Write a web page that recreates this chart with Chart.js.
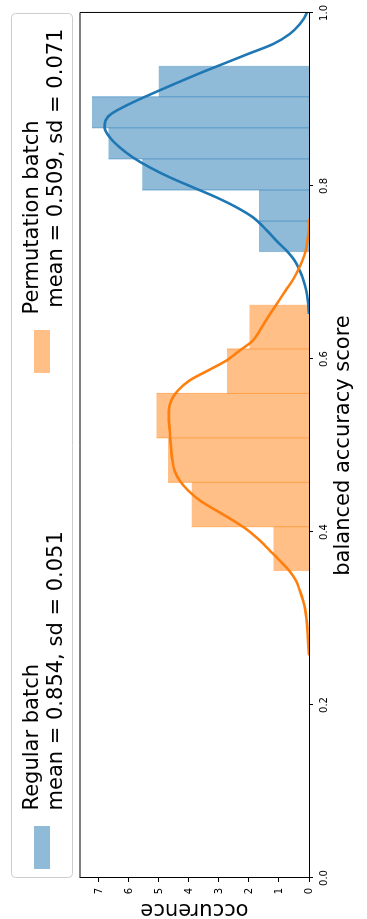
<!DOCTYPE html>
<html>
<head>
<meta charset="utf-8">
<script src="https://cdn.jsdelivr.net/npm/chart.js@4.4.1/dist/chart.umd.min.js"></script>
<style>
  html, body { margin: 0; padding: 0; background: #fff; width: 367px; height: 919px; overflow: hidden; }
  /* the figure is laid out landscape and turned a quarter turn counter-clockwise */
  #frame { position: absolute; left: 0; top: 0; width: 919px; height: 367px;
           transform-origin: 0 0; transform: translateY(919px) rotate(-90deg); }
  canvas { display: block; }
</style>
</head>
<body>
<div id="frame"><canvas id="chart" width="919" height="367"></canvas></div>
<script>
// ---- data -------------------------------------------------------------
const scoreTicks = [0.0, 0.2, 0.4, 0.6, 0.8, 1.0];
const occurrenceTicks = [0, 1, 2, 3, 4, 5, 6, 7];

// histogram bin edges and normalised bar heights
const regularBinEdges = [0.7234, 0.7594, 0.7953, 0.8313, 0.8672, 0.9031, 0.9391];
const regularHeights = [1.67, 1.67, 5.56, 6.68, 7.23, 5.01];
const permutationBinEdges = [0.3547, 0.4061, 0.4574, 0.5088, 0.5602, 0.6116, 0.6629];
const permutationHeights = [1.18, 3.91, 4.70, 5.08, 2.73, 1.98];

// density curves
const regularCurveX = [0.652, 0.6676, 0.6791, 0.6907, 0.7022, 0.7138, 0.7253, 0.7369, 0.7484,
  0.7638, 0.7754, 0.7869, 0.7985, 0.8100, 0.8216, 0.8331, 0.8447, 0.8563, 0.8678, 0.8756,
  0.8833, 0.8948, 0.9064, 0.9180, 0.9295, 0.9410, 0.9526, 0.9640, 0.9757, 0.9870, 0.9988, 1.01];
const regularCurveY = [0.0, 0.04, 0.09, 0.18, 0.31, 0.48, 0.75, 1.09, 1.40,
  1.87, 2.42, 3.09, 3.87, 4.64, 5.31, 5.87, 6.31, 6.64, 6.81, 6.78,
  6.59, 5.98, 5.25, 4.48, 3.70, 2.87, 2.03, 1.20, 0.64, 0.31, 0.09, 0.02];

const permutationCurveX = [0.2573, 0.2785, 0.2978, 0.3094, 0.3209, 0.3325, 0.3440, 0.3556, 0.3671,
  0.3787, 0.3902, 0.4018, 0.4133, 0.4249, 0.4365, 0.4480, 0.4596, 0.4711, 0.4827, 0.4942,
  0.5058, 0.5173, 0.5289, 0.5404, 0.5520, 0.5635, 0.5751, 0.5866, 0.5982, 0.6098, 0.6213,
  0.6329, 0.6444, 0.6560, 0.6676, 0.6791, 0.6907, 0.7022, 0.7138, 0.7253, 0.7370, 0.7484, 0.7620];
const permutationCurveY = [0.0, 0.04, 0.08, 0.12, 0.20, 0.31, 0.44, 0.67, 0.98,
  1.31, 1.64, 2.03, 2.53, 3.09, 3.64, 4.03, 4.31, 4.48, 4.55, 4.59,
  4.62, 4.64, 4.67, 4.67, 4.59, 4.37, 3.98, 3.37, 2.75, 2.31, 1.87,
  1.64, 1.44, 1.22, 1.00, 0.78, 0.55, 0.37, 0.22, 0.11, 0.05, 0.01, 0.0];

const regularStats = { mean: 0.854, sd: 0.051 };
const permutationStats = { mean: 0.509, sd: 0.071 };

// ---- styling ----------------------------------------------------------
const FONT = 'DejaVu Sans';
const BLUE = '#1f77b4', ORANGE = '#ff7f0e';
const BLUE_FILL = 'rgba(31,119,180,0.5)', ORANGE_FILL = 'rgba(255,127,14,0.5)';

const legendEntries = [
  { lines: ['Regular batch', 'mean = ' + regularStats.mean.toFixed(3) + ', sd = ' + regularStats.sd.toFixed(3)], fill: BLUE_FILL },
  { lines: ['Permutation batch', ' mean = ' + permutationStats.mean.toFixed(3) + ', sd = ' + permutationStats.sd.toFixed(3)], fill: ORANGE_FILL }
];

const toPoints = (xs, ys) => xs.map((x, i) => ({ x, y: ys[i] }));

// outline of a histogram as a step function: each edge carries the height of the bin to its right
function histogramOutline(edges, heights) {
  return edges.map((e, i) => ({ x: e, y: heights[Math.min(i, heights.length - 1)] }));
}

// the internal bin boundaries, each running up the taller of its two neighbours
function histogramDividers(edges, heights) {
  const pts = [];
  for (let i = 1; i < heights.length; i++) {
    pts.push({ x: edges[i], y: 0 });
    pts.push({ x: edges[i], y: Math.max(heights[i - 1], heights[i]) });
    pts.push({ x: edges[i], y: null });
  }
  return pts;
}

function histogramDatasets(label, edges, heights, fill, order) {
  return [
    { type: 'line', label, order: order + 1,
      data: histogramOutline(edges, heights),
      stepped: 'before', fill: 'origin', backgroundColor: fill,
      borderColor: 'rgba(0,0,0,0)', borderWidth: 1, pointRadius: 0 },
    { type: 'line', label: label + ' bin edges', order,
      data: histogramDividers(edges, heights),
      spanGaps: false, fill: false, borderColor: fill, borderWidth: 1, pointRadius: 0 }
  ];
}

// frame lines and the legend box above the plot
const framePlugin = {
  id: 'frame',
  afterDraw(chart) {
    const { ctx, chartArea: a } = chart;
    ctx.save();
    ctx.strokeStyle = '#000';
    ctx.lineWidth = 1;
    ctx.beginPath();
    ctx.moveTo(a.left, a.top); ctx.lineTo(a.right + 0.5, a.top);
    ctx.moveTo(a.right + 0.5, a.top); ctx.lineTo(a.right + 0.5, a.bottom);
    ctx.stroke();

    // legend
    const bx = a.left + 0.5, by = 11.5, bw = a.right - a.left - 1, bh = 61;
    ctx.beginPath();
    ctx.roundRect(bx, by, bw, bh, 4);
    ctx.fillStyle = 'rgba(255,255,255,0.8)';
    ctx.fill();
    ctx.strokeStyle = '#cccccc';
    ctx.stroke();
    const cols = [a.left + 9, a.left + 505];
    legendEntries.forEach((entry, k) => {
      const sx = cols[k];
      ctx.fillStyle = entry.fill;
      ctx.fillRect(sx, 34, 43, 16);
      ctx.fillStyle = '#000';
      ctx.font = '21px "' + FONT + '"';
      ctx.textBaseline = 'alphabetic';
      ctx.textAlign = 'left';
      ctx.fillText(entry.lines[0], sx + 58.5, 37.5);
      ctx.fillText(entry.lines[1], sx + 58.5, 61.5);
    });
    ctx.restore();
  }
};

new Chart(document.getElementById('chart'), {
  type: 'line',
  data: {
    datasets: [
      { label: 'Permutation batch density', order: 0,
        data: toPoints(permutationCurveX, permutationCurveY),
        borderColor: ORANGE, borderWidth: 2.6, pointRadius: 0, fill: false,
        cubicInterpolationMode: 'monotone' },
      { label: 'Regular batch density', order: 1,
        data: toPoints(regularCurveX, regularCurveY),
        borderColor: BLUE, borderWidth: 2.6, pointRadius: 0, fill: false,
        cubicInterpolationMode: 'monotone' },
      ...histogramDatasets('Permutation batch', permutationBinEdges, permutationHeights, ORANGE_FILL, 2),
      ...histogramDatasets('Regular batch', regularBinEdges, regularHeights, BLUE_FILL, 4)
    ]
  },
  options: {
    responsive: false,
    animation: false,
    devicePixelRatio: 1,
    layout: { padding: { top: 80, right: 12, left: 0, bottom: 0 } },
    plugins: { legend: { display: false }, tooltip: { enabled: false } },
    scales: {
      x: {
        type: 'linear', position: 'bottom', min: 0, max: 1, offset: false,
        afterBuildTicks: (s) => { s.ticks = scoreTicks.map(v => ({ value: v })); },
        afterFit: (s) => { s.height = 58; },
        ticks: { callback: (v) => Number(v).toFixed(1), maxRotation: 0, autoSkip: false,
                 font: { family: FONT, size: 10 }, color: '#000', padding: 5 },
        grid: { drawOnChartArea: false, drawTicks: true, tickLength: 4, color: '#000' },
        border: { display: true, color: '#000', width: 1 },
        title: { display: true, text: 'balanced accuracy score', color: '#000',
                 font: { family: FONT, size: 21 }, padding: { top: 0, bottom: 11 } }
      },
      y: {
        type: 'linear', position: 'left', min: 0, max: 7.63,
        afterBuildTicks: (s) => { s.ticks = occurrenceTicks.map(v => ({ value: v })); },
        afterFit: (s) => { s.width = 41; },
        ticks: { callback: (v) => String(v), font: { family: FONT, size: 10 }, color: '#000', padding: 6 },
        grid: { drawOnChartArea: false, drawTicks: true, tickLength: 4, color: '#000' },
        border: { display: true, color: '#000', width: 1 },
        title: { display: true, text: 'occurence', color: '#000',
                 font: { family: FONT, size: 21 }, padding: { top: -3.5, bottom: 0 } }
      }
    }
  },
  plugins: [framePlugin]
});
</script>
</body>
</html>
